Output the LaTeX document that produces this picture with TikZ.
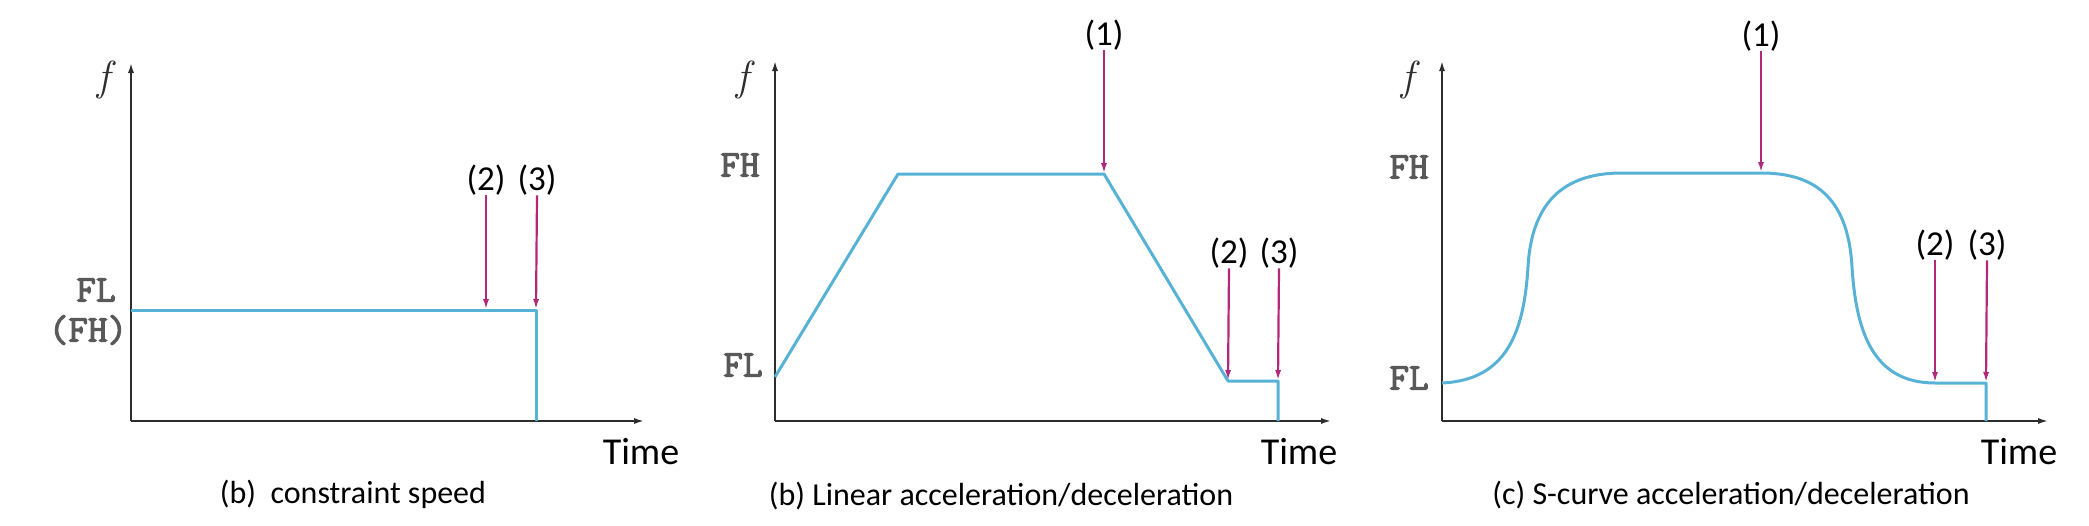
\documentclass[tikz,border=0pt]{standalone}
\usepackage{fontspec}
\setmainfont{Carlito}
\newfontfamily\levelfont[FakeBold=3]{Latin Modern Mono}
\newfontfamily\fsymfont{Latin Modern Roman}
\usetikzlibrary{positioning}
\usetikzlibrary{arrows.meta}
\definecolor{curveblue}{RGB}{88,178,214}
\definecolor{markred}{RGB}{178,40,122}
\definecolor{axisgray}{RGB}{45,45,45}

\begin{document}
\begin{tikzpicture}[x=1pt,y=-1pt]

        \tikzstyle{axis}    = [draw=axisgray, line width=2.8pt, -{Latex[length=11pt,width=6pt]}]
        \tikzstyle{curve}   = [draw=curveblue, line width=3pt, line join=round]
        \tikzstyle{marker}  = [draw=markred, line width=2.2pt, -{Latex[length=11pt,width=6pt]}]
        \tikzstyle{level}   = [font=\levelfont\fontsize{38}{40}\selectfont, text=gray!70!black, inner sep=0pt]
        \tikzstyle{event}   = [font=\fontsize{35}{38}\selectfont, inner sep=0pt]
        \tikzstyle{fsym}    = [font=\fsymfont\itshape\fontsize{42}{44}\selectfont, text=axisgray, inner sep=0pt]
        \tikzstyle{timelbl} = [font=\fontsize{38}{40}\selectfont, inner sep=0pt]
        \tikzstyle{caption} = [font=\fontsize{32}{34}\selectfont, inner sep=0pt]

        \useasboundingbox (0,0) rectangle (2089,525);

        % (b) constraint speed
        \coordinate (oA)   at (131,421);
        \coordinate (yA)   at (131,62);
        \coordinate (xA)   at (645,421);
        \coordinate (aA1)  at (131,310);
        \coordinate (aA2)  at (486,310);
        \coordinate (aA3)  at (536,310);
        \coordinate (aA4)  at (536,421);
        \node[fsym]    (fA)    at (104,80)   {f};
        \node[level]   (flA)   at (96,290)   {FL};
        \node[level]   (fhA)   at (88,330)   {(FH)};
        \node[event]   (twoA)  at (486,180)  {(2)};
        \node[event]   (thrA)  at (537,180)  {(3)};
        \node[timelbl] (tA)    at (641,452)  {Time};
        \node[caption] (capA)  at (353,494)  {(b)\ \ constraint speed};
        \draw[axis]  (oA) -- (yA);
        \draw[axis]  (oA) -- (xA);
        \draw[curve] (aA1) -- (aA3) -- (aA4);
        \draw[marker] (twoA.south) -- (aA2);
        \draw[marker] (thrA.south) -- (aA3);

        % (b) linear acceleration/deceleration
        \coordinate (oB)   at (775,421);
        \coordinate (yB)   at (775,60);
        \coordinate (xB)   at (1332,421);
        \coordinate (bB1)  at (775,377);
        \coordinate (bB2)  at (898,174);
        \coordinate (bB3)  at (1104,174);
        \coordinate (bB4)  at (1228,381);
        \coordinate (bB5)  at (1278,381);
        \coordinate (bB6)  at (1278,421);
        \node[fsym]    (fB)    at (743,80)   {f};
        \node[level]   (fhB)   at (740,165)  {FH};
        \node[level]   (flB)   at (743,365)  {FL};
        \node[event]   (oneB)  at (1104,35)  {(1)};
        \node[event]   (twoB)  at (1229,253) {(2)};
        \node[event]   (thrB)  at (1279,253) {(3)};
        \node[timelbl] (tB)    at (1299,452) {Time};
        \node[caption] (capB)  at (1001,496) {(b) Linear acceleration/deceleration};
        \draw[axis]  (oB) -- (yB);
        \draw[axis]  (oB) -- (xB);
        \draw[curve] (bB1) -- (bB2) -- (bB3) -- (bB4) -- (bB5) -- (bB6);
        \draw[marker] (oneB.south) -- (bB3);
        \draw[marker] (twoB.south) -- (bB4);
        \draw[marker] (thrB.south) -- (bB5);

        % (c) S-curve acceleration/deceleration
        \coordinate (oC)   at (1442,421);
        \coordinate (yC)   at (1442,60);
        \coordinate (xC)   at (2049,421);
        \coordinate (cC1)  at (1442,383);
        \coordinate (cC2)  at (1528,267);
        \coordinate (cC3)  at (1622,173);
        \coordinate (cC4)  at (1761,173);
        \coordinate (cC5)  at (1852,267);
        \coordinate (cC6)  at (1935,383);
        \coordinate (cC7)  at (1986,383);
        \coordinate (cC8)  at (1986,421);
        \node[fsym]    (fC)    at (1408,80)   {f};
        \node[level]   (fhC)   at (1409,167)  {FH};
        \node[level]   (flC)   at (1409,378)  {FL};
        \node[event]   (oneC)  at (1761,36)   {(1)};
        \node[event]   (twoC)  at (1935,245)  {(2)};
        \node[event]   (thrC)  at (1987,245)  {(3)};
        \node[timelbl] (tC)    at (2019,452)  {Time};
        \node[caption] (capC)  at (1731,495)  {(c) S-curve acceleration/deceleration};
        \draw[axis]  (oC) -- (yC);
        \draw[axis]  (oC) -- (xC);
        \draw[curve] (cC1) .. controls (1508,380) and (1524,330) .. (cC2)
                           .. controls (1532,195) and (1571,173) .. (cC3)
                           -- (cC4)
                           .. controls (1812,173) and (1848,195) .. (cC5)
                           .. controls (1856,330) and (1872,383) .. (cC6)
                           -- (cC7) -- (cC8);
        \draw[marker] (oneC.south) -- (cC4);
        \draw[marker] (twoC.south) -- (cC6);
        \draw[marker] (thrC.south) -- (cC7);

      \end{tikzpicture}
\end{document}
